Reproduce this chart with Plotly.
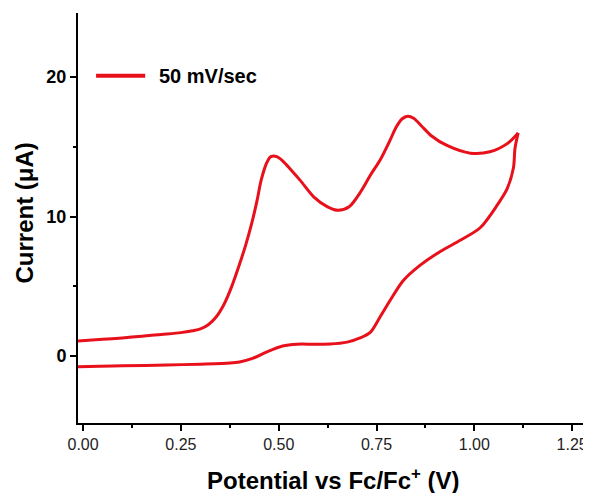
import plotly.graph_objects as go

# Forward (anodic) scan
fwd_potential = [-0.013, 0.05, 0.10, 0.15, 0.20, 0.25, 0.28, 0.30, 0.32, 0.34, 0.36, 0.38,
                 0.40, 0.415, 0.43, 0.445, 0.455, 0.47, 0.48, 0.495, 0.51, 0.53, 0.555,
                 0.59, 0.625, 0.652, 0.68, 0.71, 0.735, 0.76, 0.785, 0.80, 0.815, 0.83,
                 0.845, 0.865, 0.89, 0.93, 0.99, 1.04, 1.085, 1.112]
fwd_current = [1.08, 1.2, 1.3, 1.42, 1.55, 1.68, 1.82, 1.95, 2.25, 2.8, 3.7, 5.0,
               6.6, 7.9, 9.4, 11.2, 12.6, 13.9, 14.3, 14.3, 14.0, 13.4, 12.6,
               11.4, 10.7, 10.45, 10.7, 11.8, 13.0, 14.1, 15.5, 16.4, 17.0, 17.2,
               17.05, 16.5, 15.8, 15.1, 14.55, 14.65, 15.25, 16.0]

# Reverse (cathodic) scan
rev_potential = [1.112, 1.104, 1.10, 1.084, 1.058, 1.015, 0.964, 0.913, 0.861, 0.818,
                 0.785, 0.759, 0.734, 0.708, 0.675, 0.631, 0.588, 0.547, 0.51, 0.47,
                 0.435, 0.40, 0.376, 0.30, 0.214, 0.10, 0.043, -0.013]
rev_current = [16.0, 14.9, 13.5, 12.0, 10.8, 9.2, 8.3, 7.5, 6.5, 5.4,
               4.0, 2.8, 1.7, 1.3, 1.0, 0.86, 0.85, 0.85, 0.72, 0.3,
               -0.15, -0.42, -0.5, -0.58, -0.64, -0.70, -0.73, -0.77]

x_ticks = [0.0, 0.25, 0.5, 0.75, 1.0, 1.25]
x_tick_labels = ["0.00", "0.25", "0.50", "0.75", "1.00", "1.25"]
y_ticks = [0, 10, 20]
y_tick_labels = ["0", "10", "20"]
legend_label = "50 mV/sec"

RED = "#e8101a"
FONT = "Liberation Sans, Arial, sans-serif"

fig = go.Figure()
fig.add_trace(go.Scatter(x=fwd_potential, y=fwd_current, mode="lines",
                         line=dict(color=RED, width=3, shape="spline", smoothing=0.8),
                         name=legend_label, showlegend=False))
fig.add_trace(go.Scatter(x=rev_potential, y=rev_current, mode="lines",
                         line=dict(color=RED, width=3, shape="spline", smoothing=0.8),
                         name=legend_label, showlegend=False))

axis_common = dict(showline=True, linecolor="black", linewidth=2, ticks="outside",
                   ticklen=6, tickwidth=2, tickcolor="black", showgrid=False,
                   zeroline=False, mirror=False)

fig.update_xaxes(**axis_common, range=[-0.013, 1.288], tickvals=x_ticks,
                 ticktext=x_tick_labels,
                 tickfont=dict(family=FONT, size=16, color="#222222"),
                 minor=dict(dtick=0.125, tick0=0, ticks="outside", ticklen=3,
                            tickwidth=2, tickcolor="black"))
fig.update_yaxes(**axis_common, range=[-4.8, 24.6], tickvals=y_ticks,
                 ticktext=y_tick_labels,
                 tickfont=dict(family=FONT, size=18, color="black", weight="bold"),
                 minor=dict(dtick=5, tick0=0, ticks="outside", ticklen=3,
                            tickwidth=2, tickcolor="black"))

# The page body adds an 8px margin, so the figure is sized to fit the window.
fig.update_layout(
    width=583, height=485,
    margin=dict(l=70, r=4, t=5, b=70),
    plot_bgcolor="white", paper_bgcolor="white",
    showlegend=False,
    font=dict(family=FONT),
    shapes=[dict(type="line", xref="paper", yref="paper", x0=0.0355, x1=0.132,
                 y0=0.847, y1=0.847, line=dict(color=RED, width=4))],
    annotations=[
        dict(text=legend_label, xref="paper", yref="paper", x=0.156, y=0.847,
             xanchor="left", yanchor="middle", showarrow=False,
             font=dict(family=FONT, size=20, color="black", weight="bold")),
        dict(text="Potential vs Fc/Fc<sup>+</sup> (V)", xref="paper", yref="paper",
             x=0.501, y=0, yshift=-56, xanchor="center", yanchor="middle",
             showarrow=False,
             font=dict(family=FONT, size=24, color="black", weight="bold")),
        dict(text="Current (μA)", xref="paper", yref="paper", x=0, xshift=-54,
             y=0.511, xanchor="center", yanchor="middle", textangle=-90,
             showarrow=False,
             font=dict(family=FONT, size=24, color="black", weight="bold")),
    ],
)

fig.write_html("out.html")
